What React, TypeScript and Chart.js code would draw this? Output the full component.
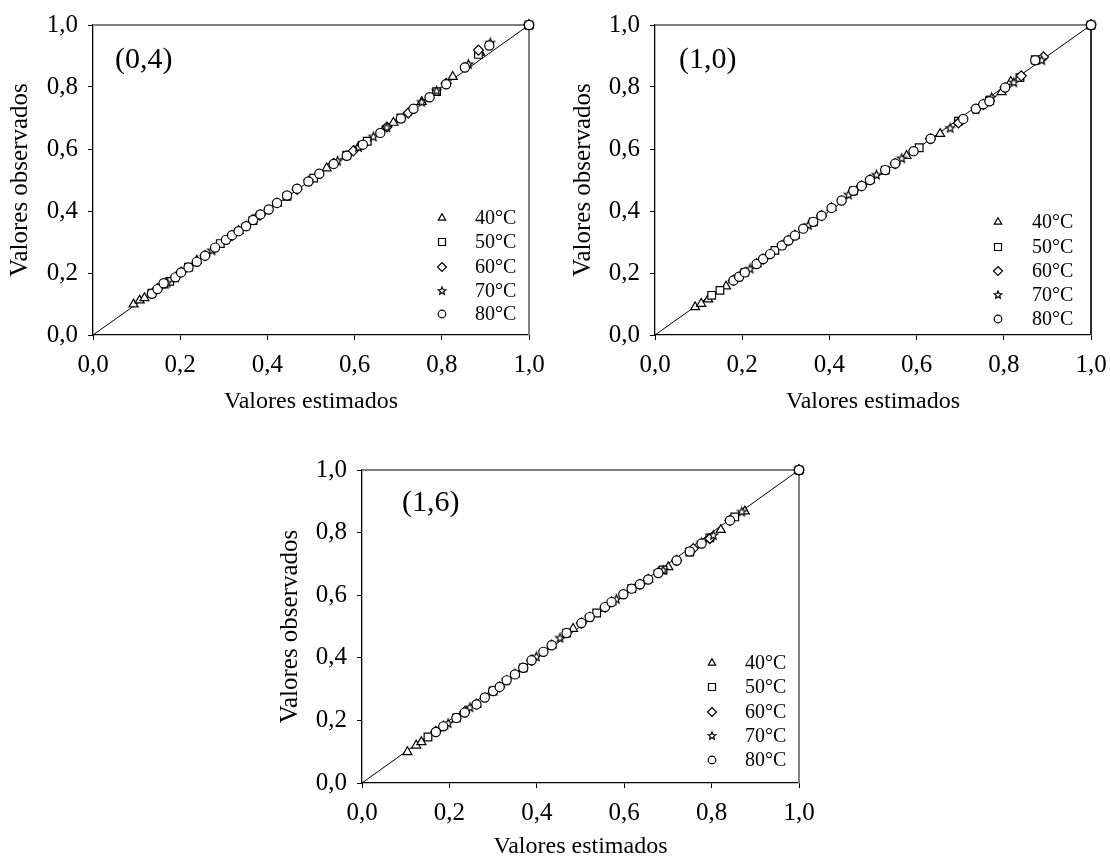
import React, { useEffect, useRef } from 'react';
import { Chart, registerables } from 'chart.js';

Chart.register(...registerables);

const FONT = "'Liberation Serif', 'Times New Roman', serif";

// ---- texts ----
const seriesLabels = ['40°C', '50°C', '60°C', '70°C', '80°C'];
const axisTicks = [0, 0.2, 0.4, 0.6, 0.8, 1.0];
const xTitle = 'Valores estimados';
const yTitle = 'Valores observados';
const panelLabels = ['(0,4)', '(1,0)', '(1,6)'];

// ---- data: [estimado, observado] ----
// Panel (0,4)
const p1_40: [number, number][] = [[0.093,0.099],[0.107,0.112],[0.118,0.119],[0.162,0.160],[0.238,0.240],[0.334,0.336],[0.422,0.424],[0.536,0.538],[0.609,0.607],[0.689,0.685],[0.754,0.752],[0.825,0.833],[0.888,0.911],[1,1]];
const p1_50: [number, number][] = [[0.135,0.135],[0.176,0.173],[0.219,0.219],[0.292,0.295],[0.367,0.369],[0.445,0.447],[0.506,0.506],[0.582,0.580],[0.629,0.625],[0.706,0.700],[0.788,0.785],[0.884,0.905],[1,1]];
const p1_60: [number, number][] = [[0.148,0.150],[0.202,0.203],[0.257,0.256],[0.319,0.321],[0.384,0.388],[0.468,0.470],[0.552,0.553],[0.597,0.594],[0.674,0.671],[0.723,0.716],[0.810,0.812],[0.884,0.919],[1,1]];
const p1_70: [number, number][] = [[0.170,0.168],[0.189,0.185],[0.273,0.272],[0.351,0.352],[0.376,0.383],[0.494,0.496],[0.561,0.561],[0.609,0.605],[0.643,0.639],[0.674,0.669],[0.754,0.751],[0.788,0.787],[0.861,0.873],[0.911,0.942],[1,1]];
const p1_80: [number, number][] = [[0.135,0.133],[0.148,0.148],[0.162,0.167],[0.189,0.186],[0.202,0.202],[0.219,0.218],[0.238,0.236],[0.257,0.256],[0.280,0.282],[0.305,0.307],[0.319,0.322],[0.334,0.335],[0.351,0.351],[0.367,0.371],[0.384,0.389],[0.403,0.405],[0.422,0.426],[0.445,0.450],[0.468,0.472],[0.494,0.495],[0.519,0.520],[0.552,0.552],[0.582,0.578],[0.619,0.614],[0.659,0.652],[0.706,0.698],[0.735,0.730],[0.772,0.767],[0.810,0.809],[0.853,0.863],[0.909,0.934],[1,1]];

// Panel (1,0)
const p2_40: [number, number][] = [[0.092,0.090],[0.106,0.101],[0.122,0.115],[0.163,0.157],[0.233,0.229],[0.321,0.321],[0.405,0.410],[0.493,0.500],[0.577,0.578],[0.654,0.649],[0.795,0.784],[0.816,0.817],[1,1]];
const p2_50: [number, number][] = [[0.130,0.128],[0.149,0.144],[0.206,0.202],[0.275,0.273],[0.363,0.365],[0.455,0.465],[0.528,0.532],[0.606,0.604],[0.696,0.690],[0.767,0.756],[0.837,0.830],[0.872,0.888],[1,1]];
const p2_60: [number, number][] = [[0.180,0.176],[0.248,0.245],[0.306,0.305],[0.382,0.385],[0.474,0.481],[0.551,0.553],[0.632,0.633],[0.696,0.684],[0.753,0.744],[0.803,0.798],[0.840,0.836],[0.891,0.897],[1,1]];
const p2_70: [number, number][] = [[0.193,0.188],[0.218,0.213],[0.291,0.289],[0.352,0.354],[0.444,0.452],[0.508,0.516],[0.566,0.569],[0.677,0.667],[0.736,0.727],[0.772,0.766],[0.823,0.814],[0.887,0.886],[1,1]];
const p2_80: [number, number][] = [[0.180,0.176],[0.193,0.188],[0.206,0.202],[0.233,0.229],[0.248,0.245],[0.264,0.261],[0.291,0.289],[0.306,0.305],[0.321,0.321],[0.340,0.343],[0.363,0.365],[0.382,0.385],[0.405,0.410],[0.428,0.434],[0.455,0.465],[0.474,0.481],[0.493,0.500],[0.528,0.532],[0.551,0.553],[0.593,0.593],[0.632,0.633],[0.707,0.697],[0.736,0.730],[0.753,0.744],[0.767,0.754],[0.803,0.798],[0.872,0.886],[1,1]];

// Panel (1,6)
const p3_40: [number, number][] = [[0.104,0.099],[0.124,0.120],[0.136,0.131],[0.186,0.181],[0.262,0.251],[0.350,0.347],[0.434,0.440],[0.483,0.493],[0.571,0.578],[0.655,0.650],[0.701,0.690],[0.821,0.809],[0.876,0.868],[1,1]];
const p3_50: [number, number][] = [[0.151,0.147],[0.216,0.208],[0.300,0.294],[0.369,0.368],[0.468,0.479],[0.537,0.543],[0.617,0.621],[0.689,0.681],[0.750,0.738],[0.796,0.783],[0.853,0.850],[1,1]];
const p3_60: [number, number][] = [[0.169,0.165],[0.235,0.227],[0.315,0.307],[0.388,0.392],[0.502,0.511],[0.556,0.562],[0.636,0.635],[0.720,0.711],[0.758,0.749],[0.796,0.781],[0.842,0.839],[1,1]];
const p3_70: [number, number][] = [[0.197,0.190],[0.247,0.241],[0.331,0.328],[0.399,0.403],[0.453,0.463],[0.521,0.530],[0.582,0.587],[0.678,0.674],[0.689,0.679],[0.777,0.767],[0.804,0.791],[0.869,0.866],[1,1]];
const p3_80: [number, number][] = [[0.169,0.163],[0.186,0.181],[0.216,0.208],[0.235,0.225],[0.262,0.251],[0.281,0.273],[0.300,0.294],[0.315,0.307],[0.331,0.328],[0.350,0.347],[0.369,0.368],[0.388,0.392],[0.415,0.419],[0.434,0.440],[0.468,0.479],[0.502,0.511],[0.521,0.530],[0.556,0.562],[0.571,0.578],[0.598,0.603],[0.617,0.621],[0.636,0.635],[0.655,0.650],[0.678,0.671],[0.720,0.711],[0.750,0.740],[0.777,0.765],[0.842,0.839],[1,1]];

const diagonal: [number, number][] = [[0, 0], [1, 1]];

type Pt = [number, number];

function makeStar(size: number, outer: number, inner: number): HTMLCanvasElement {
  const c = document.createElement('canvas');
  c.width = size; c.height = size;
  const ctx = c.getContext('2d')!;
  drawStarPath(ctx, size / 2, size / 2, outer, inner);
  ctx.fillStyle = '#fff';
  ctx.fill();
  ctx.strokeStyle = '#000';
  ctx.lineWidth = 1.2;
  ctx.stroke();
  return c;
}

function drawStarPath(ctx: CanvasRenderingContext2D, cx: number, cy: number, ro: number, ri: number) {
  ctx.beginPath();
  for (let i = 0; i < 10; i++) {
    const r = i % 2 === 0 ? ro : ri;
    const a = -Math.PI / 2 + (i * Math.PI) / 5;
    const px = cx + r * Math.cos(a);
    const py = cy + r * Math.sin(a);
    if (i === 0) ctx.moveTo(px, py); else ctx.lineTo(px, py);
  }
  ctx.closePath();
}

function drawLegendMarker(ctx: CanvasRenderingContext2D, kind: number, x: number, y: number) {
  ctx.save();
  ctx.strokeStyle = '#000';
  ctx.fillStyle = '#fff';
  ctx.lineWidth = 1.2;
  ctx.beginPath();
  if (kind === 0) {
    const r = 4.3;
    ctx.moveTo(x, y - r);
    ctx.lineTo(x + r * 0.866, y + r * 0.5);
    ctx.lineTo(x - r * 0.866, y + r * 0.5);
    ctx.closePath();
  } else if (kind === 1) {
    ctx.rect(x - 3.5, y - 3.5, 7, 7);
  } else if (kind === 2) {
    const r = 4.5;
    ctx.moveTo(x, y - r); ctx.lineTo(x + r, y); ctx.lineTo(x, y + r); ctx.lineTo(x - r, y);
    ctx.closePath();
  } else if (kind === 3) {
    drawStarPath(ctx, x, y, 4, 1.8);
  } else {
    ctx.arc(x, y, 3.8, 0, Math.PI * 2);
  }
  ctx.fill();
  ctx.stroke();
  ctx.restore();
}

interface PanelCfg {
  left: number; top: number; width: number; height: number;
  padTop: number; padRight: number; yW: number; xH: number;
  xTitlePad: number; yTitlePad: number;
  label: string; labelDx: number; labelDy: number;
  legMarker: number; legText: number; legRows: number[];
  rightColor: string;
  series: Pt[][];
}

const panels: PanelCfg[] = [
  { left: 0, top: 0, width: 560, height: 430, padTop: 22, padRight: 31, yW: 93, xH: 95,
    xTitlePad: 13.6, yTitlePad: 5, label: panelLabels[0], labelDx: 22, labelDy: 35,
    legMarker: 87, legText: 54, legRows: [117, 93, 68, 44, 21], rightColor: '#808080',
    series: [p1_40, p1_50, p1_60, p1_70, p1_80] },
  { left: 560, top: 0, width: 550, height: 430, padTop: 22, padRight: 19, yW: 95, xH: 95,
    xTitlePad: 13.6, yTitlePad: 8, label: panelLabels[1], labelDx: 24, labelDy: 35,
    legMarker: 93, legText: 59, legRows: [113, 88, 64, 40, 16], rightColor: '#303030',
    series: [p2_40, p2_50, p2_60, p2_70, p2_80] },
  { left: 270, top: 400, width: 560, height: 463, padTop: 70, padRight: 31, yW: 92, xH: 80,
    xTitlePad: 1.6, yTitlePad: 5, label: panelLabels[2], labelDx: 40, labelDy: 33,
    legMarker: 87, legText: 54, legRows: [120, 96, 71, 47, 23], rightColor: '#808080',
    series: [p3_40, p3_50, p3_60, p3_70, p3_80] },
];

const fmt = (v: number) => Number(v).toFixed(1).replace('.', ',');

function Panel({ cfg }: { cfg: PanelCfg }) {
  const ref = useRef<HTMLCanvasElement>(null);
  useEffect(() => {
    const star = makeStar(13, 4.6, 2.0);
    const styles: any[] = ['triangle', 'rect', 'rectRot', star, 'circle'];
    const radii = [5.2, 5.4, 5, 5, 4.6];
    const orders = [5, 4, 3, 2, 1];
    const datasets: any[] = cfg.series.map((s, i) => ({
      label: seriesLabels[i],
      data: s.map(([x, y]) => ({ x, y })),
      pointStyle: styles[i],
      pointRadius: radii[i],
      pointBorderColor: '#000',
      pointBackgroundColor: '#fff',
      pointBorderWidth: 1.2,
      showLine: false,
      order: orders[i],
      clip: false,
    }));
    datasets.push({
      label: 'diag',
      data: diagonal.map(([x, y]) => ({ x, y })),
      showLine: true,
      borderColor: '#000',
      borderWidth: 1,
      pointRadius: 0,
      order: 6,
      clip: false,
    });

    const deco = {
      id: 'deco',
      beforeDatasetsDraw(chart: any) {
        const { ctx, chartArea: ca } = chart;
        ctx.save();
        ctx.lineWidth = 2;
        ctx.strokeStyle = '#808080';
        ctx.beginPath();
        ctx.moveTo(ca.left, ca.top);
        ctx.lineTo(ca.right, ca.top);
        ctx.stroke();
        ctx.strokeStyle = cfg.rightColor;
        ctx.beginPath();
        ctx.moveTo(ca.right, ca.top);
        ctx.lineTo(ca.right, ca.bottom);
        ctx.stroke();
        ctx.restore();
      },
      afterDraw(chart: any) {
        const { ctx, chartArea: ca } = chart;
        ctx.save();
        ctx.fillStyle = '#000';
        ctx.textBaseline = 'middle';
        ctx.textAlign = 'left';
        ctx.font = `30px ${FONT}`;
        ctx.fillText(cfg.label, ca.left + cfg.labelDx, ca.top + cfg.labelDy);
        ctx.font = `20px ${FONT}`;
        seriesLabels.forEach((t, i) => {
          const y = ca.bottom - cfg.legRows[i];
          drawLegendMarker(ctx, i, ca.right - cfg.legMarker, y);
          ctx.fillStyle = '#000';
          ctx.fillText(t, ca.right - cfg.legText, y + 1);
        });
        ctx.restore();
      },
    };

    const chart = new Chart(ref.current!, {
      type: 'scatter',
      data: { datasets },
      plugins: [deco],
      options: {
        animation: false,
        responsive: false,
        maintainAspectRatio: false,
        events: [],
        layout: { padding: { top: cfg.padTop, right: cfg.padRight, left: 0, bottom: 0 } },
        plugins: { legend: { display: false }, tooltip: { enabled: false } },
        scales: {
          x: {
            type: 'linear', min: 0, max: 1,
            afterBuildTicks: (s: any) => { s.ticks = axisTicks.map((v) => ({ value: v })); },
            afterFit: (s: any) => { s.height = cfg.xH; },
            ticks: { callback: (v: any) => fmt(v), color: '#000', font: { family: FONT, size: 25, lineHeight: 1.84 }, padding: 2, maxRotation: 0, autoSkip: false },
            grid: { drawOnChartArea: false, drawTicks: true, tickLength: 5, color: '#000', lineWidth: 1 },
            border: { display: true, color: '#000', width: 1.3 },
            title: { display: true, text: xTitle, color: '#000', font: { family: FONT, size: 24 }, padding: { top: 0, bottom: cfg.xTitlePad } },
          },
          y: {
            type: 'linear', min: 0, max: 1,
            afterBuildTicks: (s: any) => { s.ticks = axisTicks.map((v) => ({ value: v })); },
            afterFit: (s: any) => { s.width = cfg.yW; },
            ticks: { callback: (v: any) => fmt(v), color: '#000', font: { family: FONT, size: 25 }, padding: 10, autoSkip: false },
            grid: { drawOnChartArea: false, drawTicks: true, tickLength: 5, color: '#000', lineWidth: 1 },
            border: { display: true, color: '#000', width: 1.3 },
            title: { display: true, text: yTitle, color: '#000', font: { family: FONT, size: 25 }, padding: { top: cfg.yTitlePad, bottom: 0 } },
          },
        },
      } as any,
    });
    return () => chart.destroy();
  }, []);
  return (
    <canvas
      ref={ref}
      width={cfg.width}
      height={cfg.height}
      style={{ position: 'absolute', left: cfg.left, top: cfg.top, width: cfg.width, height: cfg.height }}
    />
  );
}

export default function App() {
  return (
    <div style={{ position: 'fixed', left: 0, top: 0, width: 1110, height: 863, background: '#fff', overflow: 'hidden' }}>
      {panels.map((p, i) => <Panel key={i} cfg={p} />)}
    </div>
  );
}
